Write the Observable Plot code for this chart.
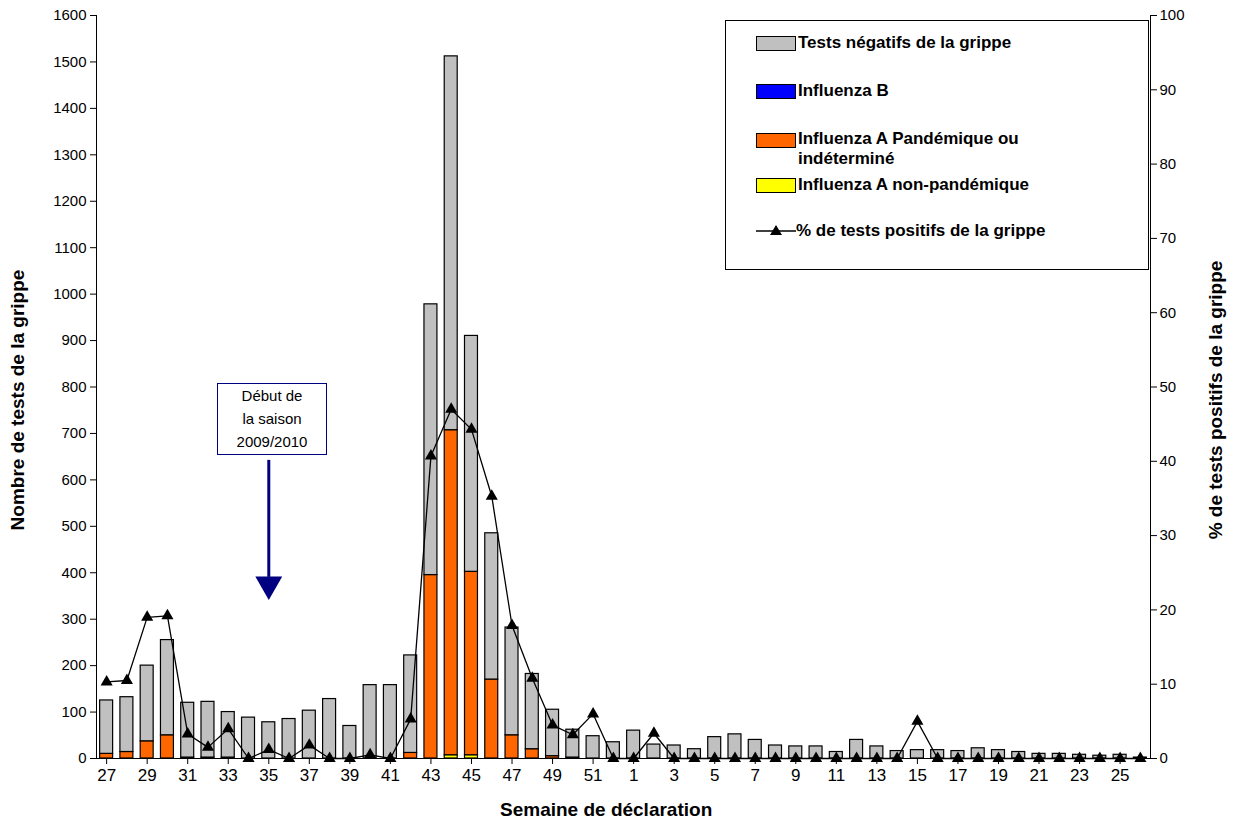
<!DOCTYPE html>
<html><head><meta charset="utf-8">
<script src="https://cdn.jsdelivr.net/npm/d3@7"></script>
<script src="https://cdn.jsdelivr.net/npm/@observablehq/plot@0.6"></script>
<style>
body{margin:0;background:#fff;font-family:"Liberation Sans",Arial,sans-serif}
#wrap{position:relative;width:1236px;height:824px}
.ov{position:absolute;font-weight:bold;font-size:19px}
#legend{position:absolute;left:725px;top:20px;width:424px;height:250px;border:1px solid #000;background:#fff;font-size:17px;font-weight:bold;box-sizing:border-box}
.li{position:absolute;left:30px;display:flex;align-items:center}
.sw{width:38px;height:13px;border:1px solid #000;margin-right:2px}
#note{position:absolute;left:217px;top:383px;width:110px;height:72px;border:1px solid #000080;background:#fff;font-size:15px;text-align:center;line-height:23px;box-sizing:border-box}
</style></head><body><div id="wrap"></div>
<script>
const weeks = ["27","28","29","30","31","32","33","34","35","36","37","38","39","40","41","42","43","44","45","46","47","48","49","50","51","52","1","2","3","4","5","6","7","8","9","10","11","12","13","14","15","16","17","18","19","20","21","22","23","24","25","26"];
const totalTests = [125,132,200,255,120,122,100,88,78,85,103,128,70,158,158,222,978,1512,910,485,282,182,105,62,48,35,60,30,28,20,46,52,40,28,26,26,14,40,26,16,18,18,16,22,18,14,10,10,8,6,8,2];
const fluAPandemic = [10,14,37,50,2,2,2,0,0,0,0,0,0,0,0,12,395,700,395,170,50,20,5,2,0,0,0,0,0,0,0,0,0,0,0,0,0,0,0,0,0,0,0,0,0,0,0,0,0,0,0,0];
const fluANonPandemic = weeks.map((w)=> w==="44"||w==="45" ? 7 : 0);
const fluB = weeks.map(()=>0);
const pctPositive = [10.3,10.5,19,19.2,3.3,1.5,4,0,1.2,0,1.8,0,0,0.5,0,5.3,40.7,47,44.3,35.3,17.9,10.8,4.5,3.2,6,0,0,3.4,0,0,0,0,0,0,0,0,0,0,0,0,5,0,0,0,0,0,0,0,0,0,0,0];
const yTicks = d3.range(0,1601,100);

const series = [
  {name:"A non-pandémique", vals:fluANonPandemic, color:"#ffff00"},
  {name:"B", vals:fluB, color:"#0000ff"},
  {name:"A pandémique", vals:fluAPandemic, color:"#ff6600"},
];
const rows = [];
weeks.forEach((w,i)=>{
  let pos=0;
  series.forEach(s=>{rows.push({week:w,serie:s.name,value:s.vals[i],color:s.color});pos+=s.vals[i];});
  rows.push({week:w,serie:"Négatif",value:totalTests[i]-pos,color:"#c0c0c0"});
});
const line = weeks.map((w,i)=>({week:w,v:pctPositive[i]*16}));

const chart = Plot.plot({
  width:1236,height:824,marginTop:15,marginBottom:66,marginLeft:96,marginRight:86,
  style:{fontFamily:"Liberation Sans, Arial, sans-serif",fontSize:"15px",color:"#000"},
  x:{domain:weeks,paddingInner:0.36,paddingOuter:0.18,round:false,label:null},
  y:{domain:[0,1600],label:null},
  marks:[
    Plot.barY(rows,{x:"week",y:"value",fill:"color",stroke:"#000",strokeWidth:1.2,order:null}),
    Plot.line(line,{x:"week",y:"v",stroke:"#000",strokeWidth:1.3}),
    Plot.dot(line,{x:"week",y:"v",symbol:"triangle",fill:"#000",r:4.5}),
    Plot.ruleX(["35"],{y1:642,y2:390,stroke:"#000080",strokeWidth:3}),
    Plot.dot(["35"],{x:d=>d,y:()=>375,symbol:"triangle",rotate:180,r:10,fill:"#000080"}),
    Plot.axisY({ticks:yTicks,tickFormat:d=>String(d),tickSize:6,fontSize:15,tickPadding:4,label:null}),
    Plot.axisY({anchor:"right",ticks:d3.range(0,1601,160),tickFormat:d=>Math.round(d/16),tickSize:6,fontSize:15,label:null}),
    Plot.axisX({ticks:weeks.filter((w,i)=>i%2===0),tickSize:6,fontSize:17,tickPadding:4,label:null}),
    Plot.ruleY([0],{stroke:"#000"}),
    Plot.frame({anchor:"left"}),
    Plot.frame({anchor:"right"})
  ]
});
const wrap=document.getElementById("wrap");
wrap.appendChild(chart);
wrap.insertAdjacentHTML("beforeend",`
<div class="ov" style="left:500px;top:799px">Semaine de déclaration</div>
<div class="ov" style="left:18px;top:400px;transform:translate(-50%,-50%) rotate(-90deg);white-space:nowrap">Nombre de tests de la grippe</div>
<div class="ov" style="left:1216px;top:400px;transform:translate(-50%,-50%) rotate(-90deg);white-space:nowrap">% de tests positifs de la grippe</div>
<div id="note">Début de<br>la saison<br>2009/2010</div>
<div id="legend">
 <div class="li" style="top:12px"><div class="sw" style="background:#c0c0c0"></div>Tests négatifs de la grippe</div>
 <div class="li" style="top:60px"><div class="sw" style="background:#0000ff"></div>Influenza B</div>
 <div class="li" style="top:108px;align-items:flex-start"><div class="sw" style="background:#ff6600;margin-top:4px"></div><div>Influenza A Pandémique ou<br>indéterminé</div></div>
 <div class="li" style="top:154px"><div class="sw" style="background:#ffff00"></div>Influenza A non-pandémique</div>
 <div class="li" style="top:200px"><svg width="40" height="14"><line x1="0" y1="7" x2="40" y2="7" stroke="#000" stroke-width="1.3"/><path d="M20 1 L26 11 L14 11 Z"/></svg>% de tests positifs de la grippe</div>
</div>`);
</script></body></html>
